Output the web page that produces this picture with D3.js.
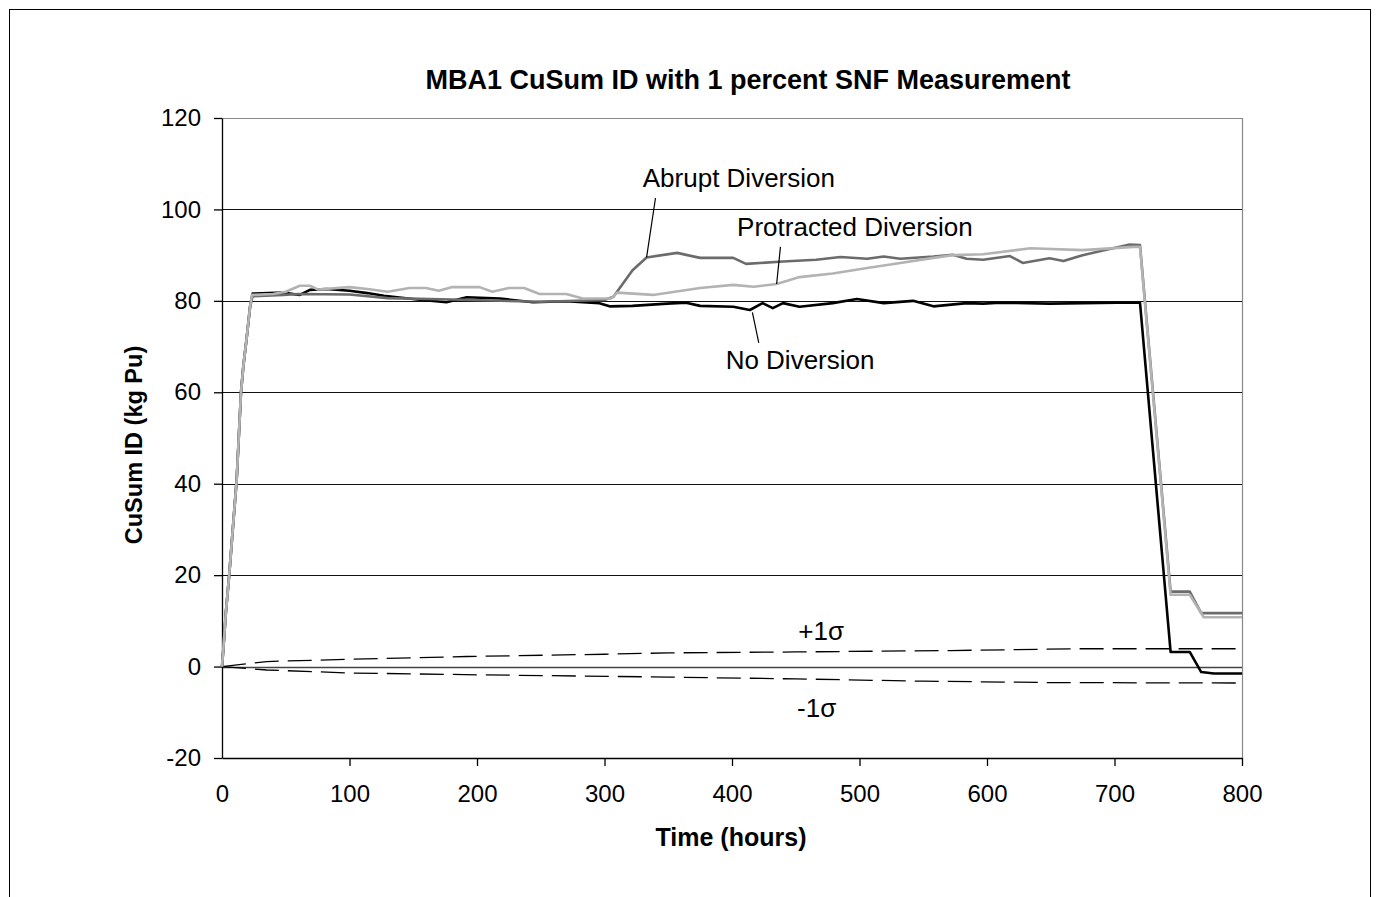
<!DOCTYPE html>
<html>
<head>
<meta charset="utf-8">
<script src="https://cdn.jsdelivr.net/npm/d3@7"></script>
<style>
  body { margin: 0; background: #fff; }
  svg { font-family: "Liberation Sans", Arial, sans-serif; }
</style>
</head>
<body>
<svg width="1379" height="897"></svg>
<script>
// Values: [hours, kg Pu]
const rise = [[0, 0], [1, 3.6], [3, 11.7], [5.7, 20.2], [7.6, 27], [11.5, 40.8], [14.9, 60], [16.7, 65.6], [19.4, 72], [22, 78.7]]

const no_diversion = rise.concat([[24, 81.6], [48, 81.8], [61, 81.3], [69, 82.4], [82, 82.6], [100, 82.2], [114, 81.7], [127, 81.1], [153, 80.3], [176, 79.7], [192, 80.8], [218, 80.5], [244, 79.7], [270, 79.9], [296, 79.5], [304, 78.8], [322, 78.9], [349, 79.4], [364, 79.6], [375, 78.9], [401, 78.7], [414, 78], [424, 79.5], [432, 78.4], [440, 79.5], [453, 78.7], [479, 79.5], [498, 80.4], [519, 79.5], [542, 80], [558, 78.8], [584, 79.5], [597, 79.4], [610, 79.6], [649, 79.4], [702, 79.6], [720, 79.6], [744, 3.2], [759, 3.2], [768, -1.2], [778, -1.5], [800, -1.5]])

const abrupt = rise.concat([[24, 81], [48, 81.3], [60, 81.5], [100, 81.4], [130, 80.6], [180, 80.3], [250, 79.8], [300, 80.2], [307, 80.9], [322, 86.7], [333, 89.5], [357, 90.5], [375, 89.4], [401, 89.4], [411, 88.1], [440, 88.6], [466, 89], [485, 89.6], [506, 89.2], [519, 89.7], [532, 89.2], [558, 89.7], [573, 90.1], [584, 89.2], [597, 89], [618, 89.8], [628, 88.3], [649, 89.3], [660, 88.7], [675, 90], [697, 91.4], [712, 92.3], [720, 92.2], [744, 16.4], [759, 16.4], [768, 11.7], [800, 11.7]])

const protracted = rise.concat([[23.5, 81.3], [40, 81.5], [50, 82], [61, 83.3], [69, 83.3], [75, 82.5], [100, 83], [114, 82.6], [130, 82], [147, 82.8], [160, 82.8], [170, 82.2], [180, 83], [202, 83], [212, 82], [225, 82.8], [237, 82.8], [249, 81.5], [270, 81.5], [283, 80.5], [305, 80.5], [310, 81.8], [338, 81.3], [375, 82.8], [401, 83.5], [417, 83.1], [435, 83.7], [453, 85.2], [479, 86], [506, 87.2], [532, 88.3], [558, 89.4], [573, 90], [597, 90.2], [634, 91.5], [675, 91.1], [715, 91.8], [720, 91.8], [744, 15.7], [759, 15.7], [770, 10.8], [800, 10.8]])

const sigma_plus = [[0, 0], [35, 1.1], [100, 1.6], [192, 2.2], [300, 2.7], [350, 3], [450, 3.2], [571, 3.5], [670, 3.9], [800, 3.9]]
const sigma_minus = [[0, 0], [35, -0.75], [100, -1.4], [200, -1.8], [350, -2.3], [450, -2.7], [550, -3.2], [650, -3.5], [800, -3.6]]

const x_ticks = [0, 100, 200, 300, 400, 500, 600, 700, 800]
const y_ticks = [-20, 0, 20, 40, 60, 80, 100, 120]

// label text, anchor point [t, v], leader line from/to [t, v]
const labels = [
    { text: "Abrupt Diversion", at: [330, 104.9], from: [340, 102.5], to: [333, 89.5] },
    { text: "Protracted Diversion", at: [404, 94.2], from: [438, 91.8], to: [435, 83.7] },
    { text: "No Diversion", at: [395, 65.1], from: [416, 77.5], to: [421, 70.8] },
    { text: "+1\u03c3", at: [452, 5.8], from: null, to: null },
    { text: "-1\u03c3", at: [451, -11], from: null, to: null },
]

const svg = d3.select("svg")
const m = { left: 222, top: 118, right: 1242, bottom: 758 }

const x = d3.scaleLinear().domain([0, 800]).range([m.left, m.right])
const y = d3.scaleLinear().domain([-20, 120]).range([m.bottom, m.top])

// outer frame
svg.append("rect")
    .attr("x", 9.5).attr("y", 9.5)
    .attr("width", 1361).attr("height", 920)
    .attr("fill", "none").attr("stroke", "#000").attr("stroke-width", 1)

// title
svg.append("text")
    .attr("x", 748).attr("y", 89)
    .attr("text-anchor", "middle")
    .style("font-size", "27px").style("font-weight", "bold")
    .text("MBA1 CuSum ID with 1 percent SNF Measurement")

// plot border (gray, top and right)
svg.append("path")
    .attr("d", `M${m.left},${m.top + 0.5}H${m.right + 0.5}V${m.bottom}`)
    .attr("fill", "none").attr("stroke", "#888").attr("stroke-width", 1.2)

// gridlines
svg.append("g")
    .selectAll("line")
    .data(y_ticks.filter(d => d > -20 && d < 120))
    .join("line")
    .attr("x1", m.left).attr("x2", m.right)
    .attr("y1", d => Math.round(y(d)) + 0.5).attr("y2", d => Math.round(y(d)) + 0.5)
    .attr("stroke", d => d === 0 ? "#444" : "#111")
    .attr("stroke-width", d => d === 0 ? 1.6 : 1.2)

// axes
const y_axis = svg.append("g")
    .attr("transform", `translate(${m.left},0)`)
    .call(d3.axisLeft(y).tickValues(y_ticks).tickFormat(d => String(d))
        .tickSize(8).tickPadding(13).tickSizeOuter(0))
const x_axis = svg.append("g")
    .attr("transform", `translate(0,${m.bottom})`)
    .call(d3.axisBottom(x).tickValues(x_ticks).tickFormat(d => String(d))
        .tickSize(8).tickPadding(19).tickSizeOuter(0))

for (const ax of [x_axis, y_axis]) {
    ax.select(".domain").attr("stroke", "#000").attr("stroke-width", 1.3)
    ax.selectAll(".tick line").attr("stroke", "#000").attr("stroke-width", 1.3)
    ax.selectAll(".tick text")
        .attr("fill", "#000")
        .style("font-size", "24px")
        .style("font-family", "'Liberation Sans', Arial, sans-serif")
}
// the first x tick sits on the y axis, no extra mark needed for 0
x_axis.selectAll(".tick line").filter(d => d === 0).remove()

// axis titles
svg.append("text")
    .attr("x", 731).attr("y", 846)
    .attr("text-anchor", "middle")
    .style("font-size", "25px").style("font-weight", "bold")
    .text("Time (hours)")

svg.append("text")
    .attr("transform", `translate(142,445) rotate(-90)`)
    .attr("text-anchor", "middle")
    .style("font-size", "23.5px").style("font-weight", "bold")
    .text("CuSum ID (kg Pu)")

const line = d3.line().x(d => x(d[0])).y(d => y(d[1]))

// sigma bands
svg.append("g")
    .selectAll("path")
    .data([sigma_plus, sigma_minus])
    .join("path")
    .attr("d", line)
    .attr("fill", "none")
    .attr("stroke", "#000")
    .attr("stroke-width", 1.3)
    .attr("stroke-dasharray", "24,9")

// series, drawn light gray on top
const series = [
    { data: no_diversion, color: "#000" },
    { data: abrupt, color: "#6b6b6b" },
    { data: protracted, color: "#b3b3b3" },
]
svg.append("g")
    .selectAll("path")
    .data(series)
    .join("path")
    .attr("d", d => line(d.data))
    .attr("fill", "none")
    .attr("stroke", d => d.color)
    .attr("stroke-width", 2.6)
    .attr("stroke-linejoin", "round")

// labels and leaders
const ann = svg.append("g")
ann.selectAll("line")
    .data(labels.filter(d => d.from))
    .join("line")
    .attr("x1", d => x(d.from[0])).attr("y1", d => y(d.from[1]))
    .attr("x2", d => x(d.to[0])).attr("y2", d => y(d.to[1]))
    .attr("stroke", "#000").attr("stroke-width", 1.2)
ann.selectAll("text")
    .data(labels)
    .join("text")
    .attr("x", d => x(d.at[0])).attr("y", d => y(d.at[1]))
    .style("font-size", "26px")
    .text(d => d.text)
</script>
</body>
</html>
